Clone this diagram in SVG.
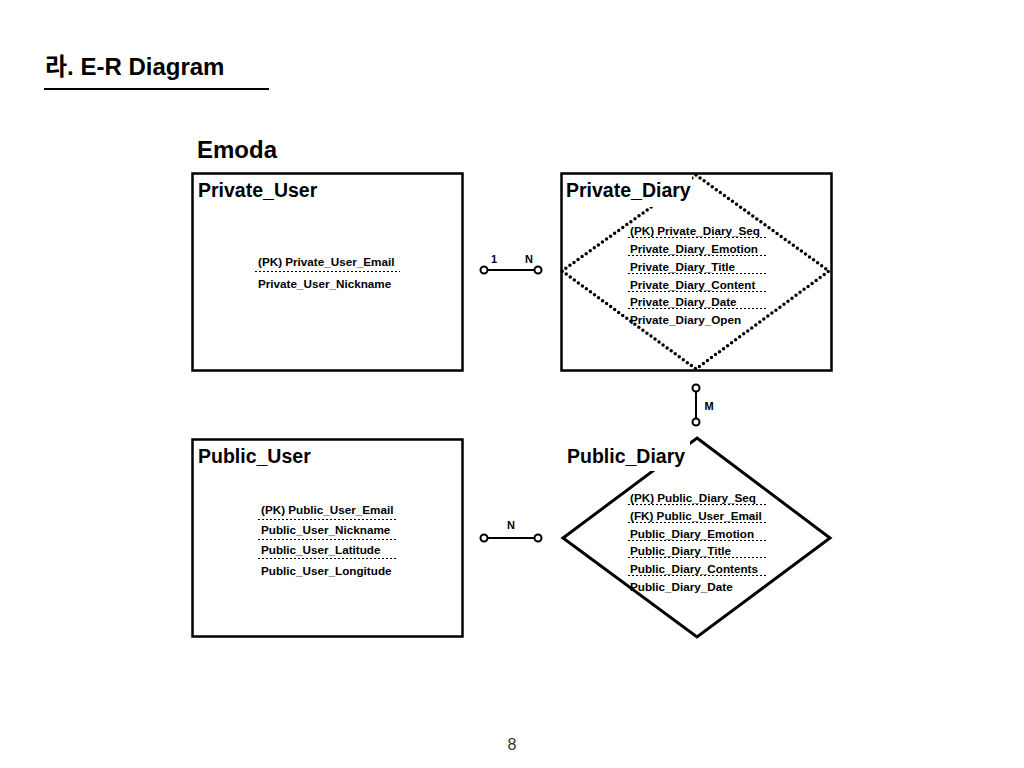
<svg xmlns="http://www.w3.org/2000/svg" width="1024" height="768" viewBox="0 0 1024 768">
<style>
text{font-family:"Liberation Sans","Noto Sans CJK KR",Arial,sans-serif;fill:#000}
.h1{font-size:24px;font-weight:bold}
.ent{font-size:19.5px;font-weight:bold}
.att{font-size:11.7px;font-weight:bold}
.box{fill:#fff;stroke:#000;stroke-width:2.5}
.dot{stroke:#000;stroke-width:1;stroke-dasharray:2 2;fill:none}
.rel{stroke:#000;stroke-width:2;fill:none}
.end{fill:#fff;stroke:#000;stroke-width:2}
.lbl{font-size:11px;font-weight:bold}
</style>
<rect width="1024" height="768" fill="#fff"/>
<text class="h1" x="45" y="75">라. E-R Diagram</text>
<line x1="44" y1="89" x2="269" y2="89" stroke="#000" stroke-width="2"/>
<text class="h1" x="197" y="158">Emoda</text>

<g id="private_user">
<rect class="box" x="192.5" y="173.5" width="270" height="197"/>
<text class="ent" x="198" y="197">Private_User</text>
<text class="att" x="258" y="266">(PK) Private_User_Email</text>
<line class="dot" x1="255" y1="271.5" x2="400" y2="271.5"/>
<text class="att" x="258" y="288">Private_User_Nickname</text>
</g>

<g id="private_diary">
<rect class="box" x="561.5" y="173.5" width="270" height="197"/>
<polygon points="696,175 829,271 696,369 562,271" fill="none" stroke="#000" stroke-width="3.5" stroke-dasharray="0 5" stroke-linecap="round"/>
<rect x="563" y="176" width="129" height="31" fill="#fff"/>
<text class="ent" x="566" y="197">Private_Diary</text>
<text class="att" x="630" y="235">(PK) Private_Diary_Seq</text>
<text class="att" x="630" y="253">Private_Diary_Emotion</text>
<text class="att" x="630" y="271">Private_Diary_Title</text>
<text class="att" x="630" y="289">Private_Diary_Content</text>
<text class="att" x="630" y="306">Private_Diary_Date</text>
<text class="att" x="630" y="324">Private_Diary_Open</text>
<line class="dot" x1="628" y1="237.5" x2="768" y2="237.5"/>
<line class="dot" x1="628" y1="255.5" x2="768" y2="255.5"/>
<line class="dot" x1="628" y1="273.5" x2="768" y2="273.5"/>
<line class="dot" x1="628" y1="291.5" x2="768" y2="291.5"/>
<line class="dot" x1="628" y1="308.5" x2="768" y2="308.5"/>
</g>

<g id="public_user">
<rect class="box" x="192.5" y="439.5" width="270" height="197"/>
<text class="ent" x="198" y="463">Public_User</text>
<text class="att" x="261" y="514">(PK) Public_User_Email</text>
<line class="dot" x1="258" y1="519.5" x2="398" y2="519.5"/>
<text class="att" x="261" y="534">Public_User_Nickname</text>
<line class="dot" x1="258" y1="539.5" x2="398" y2="539.5"/>
<text class="att" x="261" y="554">Public_User_Latitude</text>
<line class="dot" x1="258" y1="558.5" x2="398" y2="558.5"/>
<text class="att" x="261" y="575">Public_User_Longitude</text>
</g>

<g id="public_diary">
<polygon points="697,438 830,538 697,637 563,538" fill="#fff" stroke="#000" stroke-width="3"/>
<rect x="563" y="440" width="127" height="31" fill="#fff"/>
<text class="ent" x="567" y="463">Public_Diary</text>
<text class="att" x="630" y="502">(PK) Public_Diary_Seq</text>
<text class="att" x="630" y="520">(FK) Public_User_Email</text>
<text class="att" x="630" y="538">Public_Diary_Emotion</text>
<text class="att" x="630" y="555">Public_Diary_Title</text>
<text class="att" x="630" y="573">Public_Diary_Contents</text>
<text class="att" x="630" y="591">Public_Diary_Date</text>
<line class="dot" x1="628" y1="504.5" x2="768" y2="504.5"/>
<line class="dot" x1="628" y1="522.5" x2="768" y2="522.5"/>
<line class="dot" x1="628" y1="540.5" x2="768" y2="540.5"/>
<line class="dot" x1="628" y1="557.5" x2="768" y2="557.5"/>
<line class="dot" x1="628" y1="575.5" x2="768" y2="575.5"/>
</g>

<g id="connectors">
<line class="rel" x1="484" y1="270" x2="538" y2="270"/>
<circle class="end" cx="484" cy="270" r="3.5"/>
<circle class="end" cx="538" cy="270" r="3.5"/>
<text class="lbl" x="494" y="263" text-anchor="middle">1</text>
<text class="lbl" x="529" y="263" text-anchor="middle">N</text>

<line class="rel" x1="696" y1="388" x2="696" y2="422"/>
<circle class="end" cx="696" cy="388" r="3.5"/>
<circle class="end" cx="696" cy="422" r="3.5"/>
<text class="lbl" x="709" y="410" text-anchor="middle">M</text>

<line class="rel" x1="484" y1="538" x2="538" y2="538"/>
<circle class="end" cx="484" cy="538" r="3.5"/>
<circle class="end" cx="538" cy="538" r="3.5"/>
<text class="lbl" x="511" y="529" text-anchor="middle">N</text>
</g>

<text x="512" y="750" text-anchor="middle" style="font-size:16px;fill:#333;font-family:'Liberation Sans',sans-serif">8</text>
</svg>
